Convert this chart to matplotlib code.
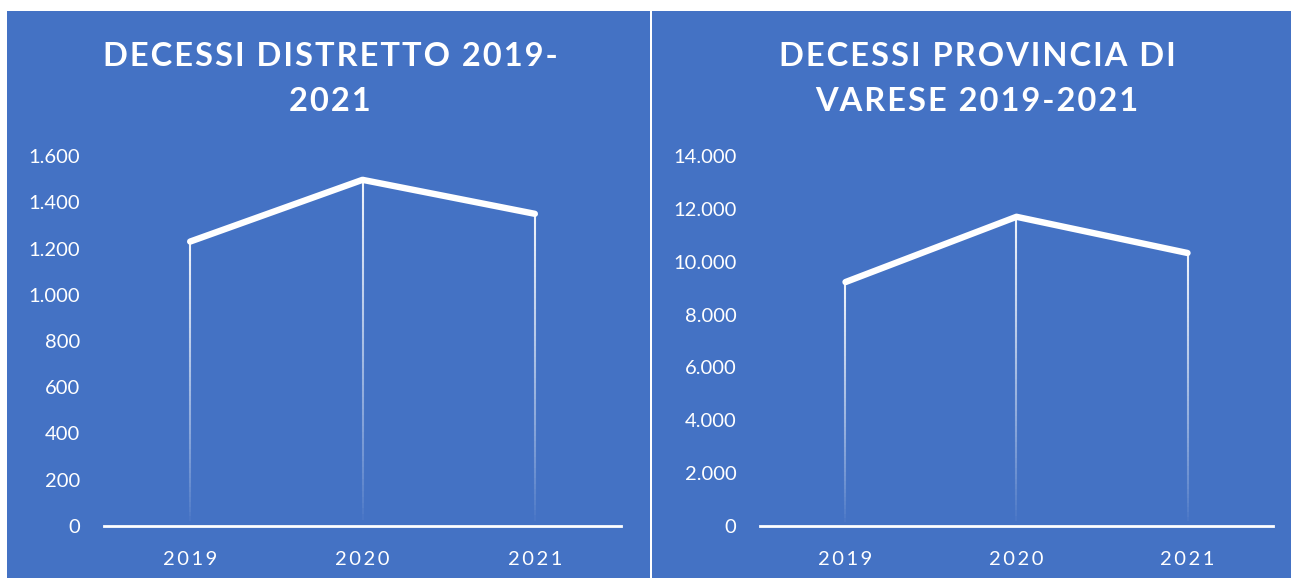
import numpy as np
import matplotlib.pyplot as plt
from matplotlib.patches import Rectangle
from matplotlib.collections import LineCollection
from matplotlib.ticker import FuncFormatter

# dati
anni = ['2019', '2020', '2021']
decessi_distretto = [1230, 1497, 1350]
decessi_provincia = [9230, 11700, 10330]
titolo_distretto = ['DECESSI DISTRETTO 2019-', '2021']
titolo_provincia = ['DECESSI PROVINCIA DI', 'VARESE 2019-2021']
ticks_distretto = [0, 200, 400, 600, 800, 1000, 1200, 1400, 1600]
ticks_provincia = [0, 2000, 4000, 6000, 8000, 10000, 12000, 14000]

BLU = '#4472C4'
W, H = 1291, 582
plt.rcParams['font.family'] = ['Lato', 'DejaVu Sans']

fig = plt.figure(figsize=(W / 100, H / 100), dpi=100)
fig.patch.set_facecolor('white')


def px(x0, y0, x1, y1):
    # pixel box (top-left origin) -> figure fraction
    return [x0 / W, 1 - y1 / H, (x1 - x0) / W, (y1 - y0) / H]


def punti(v, pos):
    return f'{int(v):,}'.replace(',', '.')


def spaziato(s, sp='\u200a'):
    # spaziatura tra le lettere
    return sp.join(s)


def pannello(box, axbox, titolo, valori, ticks, tx):
    b = px(*box)
    fig.patches.append(Rectangle((b[0], b[1]), b[2], b[3], transform=fig.transFigure,
                                 facecolor=BLU, edgecolor='none', zorder=-5))
    for riga, ty in zip(titolo, [57, 101]):
        fig.text(tx / W, 1 - ty / H, spaziato(riga), ha='center', va='center',
                 color='white', fontsize=23.5, fontweight='bold')

    ax = fig.add_axes(px(*axbox))
    ax.set_facecolor('none')
    x = np.arange(len(valori))
    # linee di proiezione sfumate
    for xi, v in zip(x, valori):
        ys = np.linspace(0, v, 60)
        segs = [[(xi, ys[i]), (xi, ys[i + 1])] for i in range(len(ys) - 1)]
        alph = np.linspace(0.0, 0.9, len(segs)) ** 0.8
        cols = [(1, 1, 1, a) for a in alph]
        ax.add_collection(LineCollection(segs, colors=cols, linewidths=1.5, zorder=2))
    ax.plot(x, valori, color='white', lw=4.6, solid_capstyle='round',
            solid_joinstyle='round', zorder=3)

    ax.set_xlim(-0.5, len(valori) - 0.5)
    ax.set_ylim(0, ticks[-1])
    ax.set_yticks(ticks)
    ax.yaxis.set_major_formatter(FuncFormatter(punti))
    ax.set_xticks(x)
    ax.set_xticklabels([spaziato(a, '\u2009') for a in anni])
    for s in ['top', 'right', 'left']:
        ax.spines[s].set_visible(False)
    ax.spines['bottom'].set_color('white')
    ax.spines['bottom'].set_linewidth(2)
    ax.tick_params(axis='y', length=0, pad=17, colors='white', labelsize=14.5)
    ax.tick_params(axis='x', length=0, pad=18, colors='white', labelsize=14.5)
    return ax


pannello((7, 11, 650, 578), (104, 156, 621, 526), titolo_distretto,
         decessi_distretto, ticks_distretto, 330)
pannello((652, 11, 1291, 578), (760, 156, 1273, 526), titolo_provincia,
         decessi_provincia, ticks_provincia, 977)

fig.savefig('out.png', dpi=100, facecolor='white')
